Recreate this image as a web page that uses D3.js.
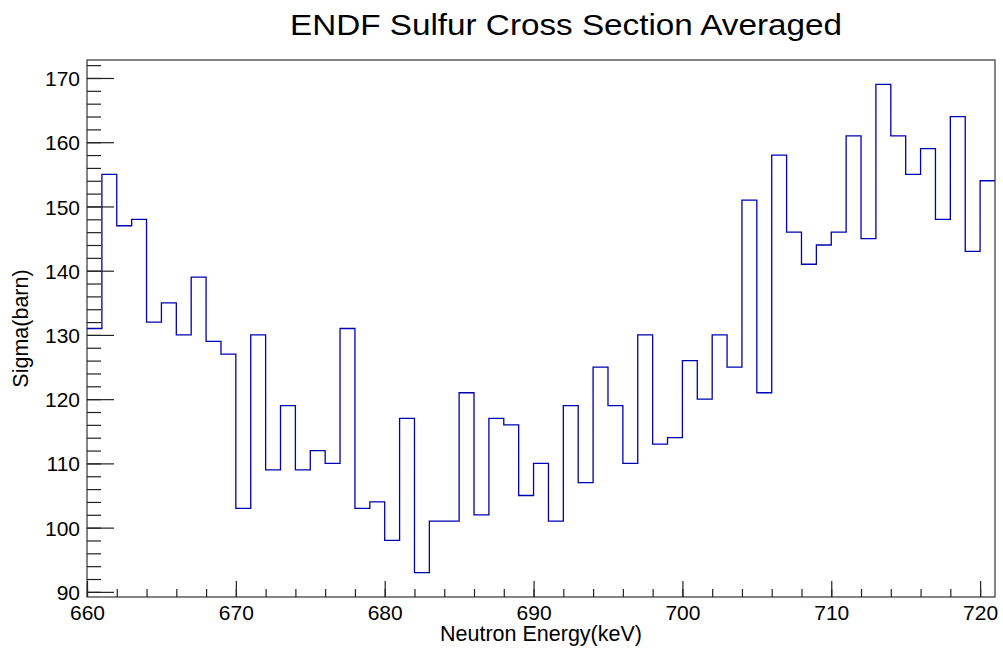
<!DOCTYPE html>
<html>
<head>
<meta charset="utf-8">
<script src="https://cdn.jsdelivr.net/npm/d3@7"></script>
<style>
  html, body { margin: 0; padding: 0; background: #fff; }
  svg { display: block; font-family: "Liberation Sans", Arial, Helvetica, sans-serif; }
</style>
</head>
<body>
<svg id="chart" width="1003" height="654"></svg>
<script>
// Bin lower edges (keV), 1 keV wide bins
const binEdges = [660,661,662,663,664,665,666,667,668,669,
                  670,671,672,673,674,675,676,677,678,679,
                  680,681,682,683,684,685,686,687,688,689,
                  690,691,692,693,694,695,696,697,698,699,
                  700,701,702,703,704,705,706,707,708,709,
                  710,711,712,713,714,715,716,717,718,719,
                  720];
// Averaged cross section (barn)
const sigma = [131,155,147,148,132,135,130,139,129,127,
               103,130,109,119,109,112,110,131,103,104,
                98,117, 93,101,101,121,102,117,116,105,
               110,101,119,107,125,119,110,130,113,114,
               126,120,130,125,151,121,158,146,141,144,
               146,161,145,169,161,155,159,148,164,143,
               154];
const binWidth = 1;
const xTicks = [660,670,680,690,700,710,720];
const yTicks = [90,100,110,120,130,140,150,160,170];
const xMinorTicks = d3.range(660, 721, 2);
const yMinorTicks = d3.range(90, 173, 2);

const titleText = "ENDF Sulfur Cross Section Averaged";
const xTitle = "Neutron Energy(keV)";
const yTitle = "Sigma(barn)";

const svg = d3.select("#chart");
const L = 87, R = 995, T = 60, B = 597;

const x = d3.scaleLinear().domain([660, 721]).range([L, R]);
const ymin = d3.min(sigma), ymax = d3.max(sigma);
const pad = 0.05 * (ymax - ymin);
const y = d3.scaleLinear().domain([ymin - pad, ymax + pad]).range([B, T]);

// histogram outline
const pts = binEdges.map((e, i) => [e, sigma[i]]);
pts.push([binEdges[binEdges.length - 1] + binWidth, sigma[sigma.length - 1]]);
const line = d3.line().x(d => x(d[0])).y(d => y(d[1])).curve(d3.curveStepAfter);

svg.append("path")
  .attr("d", line(pts))
  .attr("fill", "none")
  .attr("stroke", "#0000b4")
  .attr("stroke-width", 1.3);

// frame
svg.append("rect")
  .attr("x", L).attr("y", T).attr("width", R - L).attr("height", B - T)
  .attr("fill", "none").attr("stroke", "#333").attr("stroke-width", 1.2);

function styleAxis(g) {
  g.select(".domain").remove();
  g.selectAll("line").attr("stroke", "#222").attr("stroke-width", 1.2);
}

// x ticks (pointing inward)
svg.append("g").attr("transform", `translate(0,${B})`)
  .call(d3.axisTop(x).tickValues(xMinorTicks).tickSize(8).tickFormat(""))
  .call(styleAxis);
svg.append("g").attr("transform", `translate(0,${B})`)
  .call(d3.axisTop(x).tickValues(xTicks).tickSize(16).tickFormat(""))
  .call(styleAxis);
// x labels
const xl = svg.append("g").attr("transform", `translate(0,${B})`)
  .call(d3.axisBottom(x).tickValues(xTicks).tickSize(0).tickPadding(0).tickFormat(d3.format("d")));
xl.select(".domain").remove();
xl.selectAll("text").attr("font-size", 21).attr("font-family", "Liberation Sans, Arial, sans-serif")
  .attr("fill", "#000").attr("dy", null).attr("y", 23);

// y ticks
svg.append("g").attr("transform", `translate(${L},0)`)
  .call(d3.axisRight(y).tickValues(yMinorTicks).tickSize(14).tickFormat(""))
  .call(styleAxis);
svg.append("g").attr("transform", `translate(${L},0)`)
  .call(d3.axisRight(y).tickValues(yTicks).tickSize(27).tickFormat(""))
  .call(styleAxis);
const yl = svg.append("g").attr("transform", `translate(${L},0)`)
  .call(d3.axisLeft(y).tickValues(yTicks).tickSize(0).tickPadding(7).tickFormat(d3.format("d")));
yl.select(".domain").remove();
yl.selectAll("text").attr("font-size", 21).attr("font-family", "Liberation Sans, Arial, sans-serif")
  .attr("fill", "#000").attr("dy", "0.36em");

// titles
svg.append("text")
  .attr("x", 566).attr("y", 35)
  .attr("text-anchor", "middle")
  .attr("font-size", 29)
  .attr("textLength", 552).attr("lengthAdjust", "spacingAndGlyphs")
  .attr("fill", "#000")
  .text(titleText);

svg.append("text")
  .attr("x", (L + R) / 2).attr("y", 641)
  .attr("text-anchor", "middle")
  .attr("font-size", 21.5)
  .attr("fill", "#000")
  .text(xTitle);

svg.append("text")
  .attr("transform", `translate(28,${(T + B) / 2}) rotate(-90)`)
  .attr("text-anchor", "middle")
  .attr("font-size", 21.5)
  .attr("fill", "#000")
  .text(yTitle);
</script>
</body>
</html>
